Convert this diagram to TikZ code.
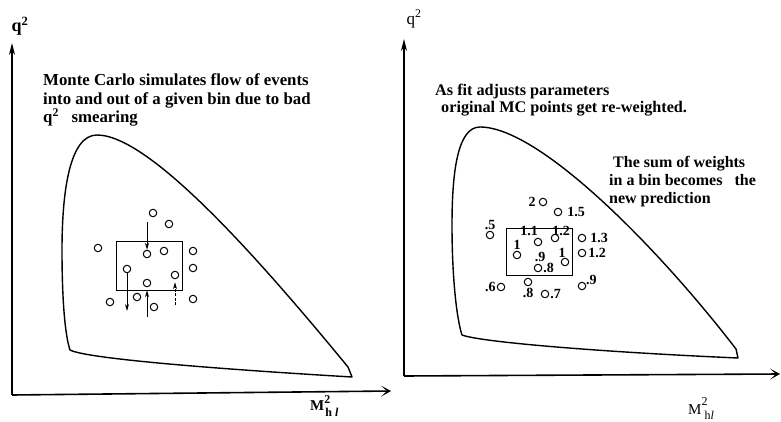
\documentclass[tikz,border=0pt]{standalone}
\usepackage{fontspec}
\setmainfont{Liberation Serif}
\usetikzlibrary{arrows.meta, positioning}

\begin{document}
\begin{tikzpicture}[x=1pt, y=-1pt,
    ax/.style={line width=1.6pt},
    yax/.style={ax, -{Stealth[length=12pt,width=6pt]}},
    xax/.style={ax, -{Stealth[length=10pt,width=11pt,inset=6pt]}},
    edge/.style={line width=1.4pt, line join=round},
    bin/.style={draw, line width=1pt, inner sep=0pt},
    ev/.style={circle, draw, line width=1pt, inner sep=0pt, minimum size=7.5pt},
    wt/.style={font=\bfseries\fontsize{14}{14}\selectfont, inner sep=0pt},
    note/.style={font=\bfseries\fontsize{16}{18}\selectfont, align=left, inner sep=0pt, anchor=base west},
    flow/.style={-{Stealth[length=7pt,width=4pt]}, line width=0.8pt}]
  \useasboundingbox (0,0) rectangle (781,422);

  % left panel: smearing
  \coordinate (lo) at (12,395);
  \coordinate (ly) at (12,43);
  \coordinate (lx) at (391,391);
  \draw[yax] (lo) -- (ly);
  \draw[xax] (lo) -- (lx);
  \node[font=\bfseries\fontsize{18}{18}\selectfont] (lq) at (20,26) {q\textsuperscript{2}};
  \node[font=\bfseries\fontsize{15}{15}\selectfont, inner sep=0pt, anchor=base west] (lm) at (310,410)
    {M\raisebox{7pt}{\fontsize{12}{12}\selectfont 2}\hspace{-5pt}\raisebox{-6pt}{\fontsize{12}{12}\selectfont h \textit{l}}};
  % base anchor sits on the last line
  \node[note, font=\bfseries\fontsize{16.8}{18.5}\selectfont] (ltxt) at (43,123) {Monte Carlo simulates flow of events\\
    into and out of a given bin due to bad\\
    q\textsuperscript{2}\ \ \ smearing};

  \draw[edge] (97,135) .. controls (70,135) and (62,190) .. (62,250)
    .. controls (62,300) and (65,335) .. (70,350)
    .. controls (85,358) and (200,368) .. (352,377) -- (348,367)
    .. controls (260,260) and (150,135) .. (97,135) -- cycle;

  \node[bin, minimum width=66pt, minimum height=49pt] (lbin) at (149,265.5) {};

  \node[ev] (l1) at (153,213) {};
  \node[ev] (l2) at (169,224) {};
  \node[ev] (l3) at (98,248) {};
  \node[ev] (l4) at (147,254) {};
  \node[ev] (l5) at (164,251) {};
  \node[ev] (l6) at (193,251) {};
  \node[ev] (l7) at (193,268) {};
  \node[ev] (l8) at (127,269) {};
  \node[ev] (l9) at (147,283) {};
  \node[ev] (l10) at (175,275) {};
  \node[ev] (l11) at (110,302) {};
  \node[ev] (l12) at (137,297) {};
  \node[ev] (l13) at (154,307) {};
  \node[ev] (l14) at (193,299) {};

  \coordinate (in1) at (147,222);
  \coordinate (out1) at (127,311);
  \coordinate (in2) at (147,317);
  \coordinate (in3) at (175,305);
  \draw[flow] (in1) -- (l4.north);
  \draw[flow] (l8.south) -- (out1);
  \draw[flow, shorten >=3pt] (in2) -- (l9.south);
  \draw[flow, shorten >=3pt, dash pattern=on 3pt off 1.5pt] (in3) -- (l10.south);

  % right panel: re-weighting
  \coordinate (ro) at (404,376);
  \coordinate (ry) at (404,39);
  \coordinate (rx) at (780,374);
  \draw[yax] (ro) -- (ry);
  \draw[xax] (ro) -- (rx);
  \node[font=\fontsize{17}{17}\selectfont] (rq) at (414,19) {q\textsuperscript{2}};
  \node[font=\fontsize{15}{15}\selectfont, inner sep=0pt, anchor=base west] (rm) at (688,414)
    {M\raisebox{9pt}{\fontsize{12}{12}\selectfont 2}\hspace{-3pt}\raisebox{-5pt}{\fontsize{12}{12}\selectfont h\textit{l}}};
  \node[note, font=\bfseries\fontsize{16.2}{17}\selectfont] (rtxt) at (435,113) {As fit adjusts parameters\\
    \hspace{6pt}original MC points get re-weighted.};
  \node[note] (stxt) at (609,204) {\hspace{4pt}The sum of weights\\
    in a bin becomes\ \ \ the\\
    new prediction};

  \draw[edge] (480,127) .. controls (458,127) and (452,170) .. (452,225)
    .. controls (452,280) and (457,320) .. (462,335)
    .. controls (480,342) and (600,352) .. (738,358) -- (736,349)
    .. controls (660,250) and (540,127) .. (480,127) -- cycle;

  \node[bin, minimum width=66pt, minimum height=47pt] (rbin) at (539,251.5) {};

  \node[ev] (r1) at (543,202) {};
  \node[ev] (r2) at (558,212) {};
  \node[ev] (r3) at (490,235) {};
  \node[ev] (r4) at (538,242) {};
  \node[ev] (r5) at (555,238) {};
  \node[ev] (r6) at (582,238) {};
  \node[ev] (r7) at (517,255) {};
  \node[ev] (r8) at (565,262) {};
  \node[ev] (r9) at (582,253) {};
  \node[ev] (r10) at (538,268) {};
  \node[ev] (r11) at (501,287) {};
  \node[ev] (r12) at (528,282) {};
  \node[ev] (r13) at (545,294) {};
  \node[ev] (r14) at (582,286) {};

  \node[wt, left=3pt of r1] {2};
  \node[wt, right=5pt of r2] {1.5};
  \node[wt, above=1pt of r3] {.5};
  \node[wt] at (529,231) {1.1};
  \node[wt] at (561,231) {1.2};
  \node[wt, right=4pt of r6] {1.3};
  \node[wt, above=1pt of r7] {1};
  \node[wt] at (540,257) {.9};
  \node[wt] at (562,253) {1};
  \node[wt, right=2pt of r9] {1.2};
  \node[wt, right=1pt of r10] {.8};
  \node[wt, left=1pt of r11] {.6};
  \node[wt, below=2pt of r12] {.8};
  \node[wt, right=1pt of r13] {.7};
  \node[wt, above right=-2pt and 1pt of r14] {.9};
\end{tikzpicture}
\end{document}
